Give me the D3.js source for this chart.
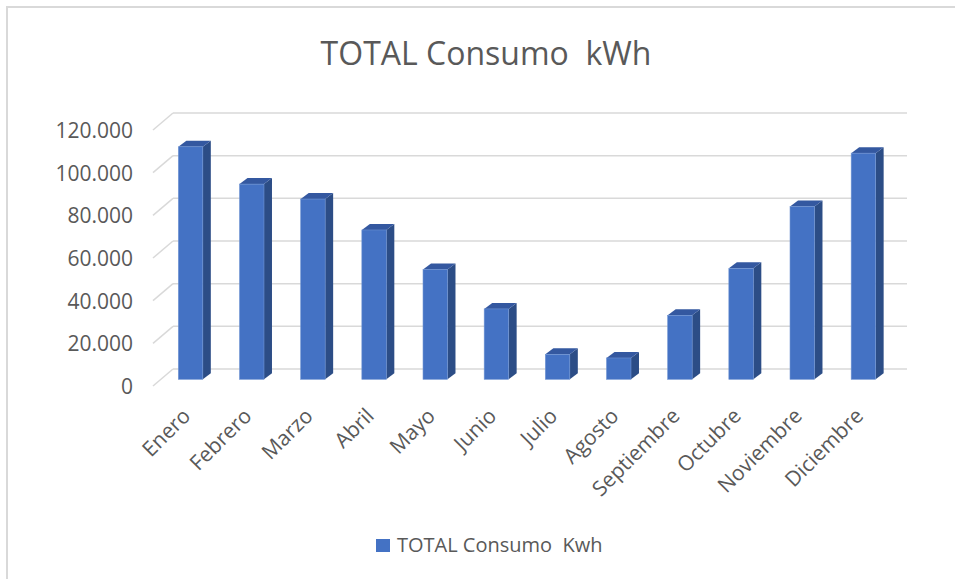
<!DOCTYPE html>
<html>
<head>
<meta charset="utf-8">
<script src="https://cdn.jsdelivr.net/npm/d3@7"></script>
<style>
  html, body { margin: 0; padding: 0; background: #ffffff; }
  svg { display: block; }
  text { font-family: "Open Sans", "Liberation Sans", sans-serif; fill: #595959; white-space: pre; }
</style>
</head>
<body>
<svg id="chart" width="955" height="579"></svg>
<script>
// ---- data ----
const categories = ["Enero", "Febrero", "Marzo", "Abril", "Mayo", "Junio", "Julio", "Agosto", "Septiembre", "Octubre", "Noviembre", "Diciembre"];
const consumo = [109000, 91500, 84500, 70000, 51500, 33000, 11700, 10000, 30000, 52000, 81000, 106000];
const yTicks = [0, 20000, 40000, 60000, 80000, 100000, 120000];
const titleText = "TOTAL Consumo  kWh";
const legendText = "TOTAL Consumo  Kwh";

// ---- layout ----
const svg = d3.select("#chart");
const W = 955, H = 579;
const back = { x0: 173, x1: 907, yBase: 369, yTop: 113 };
const depth = { dx: -20, dy: 17 };          // back wall -> front edge offset
const face = { dx: -12, dy: 10.3 };         // back wall -> bar front face offset
const barDepth = { dx: 8, dy: -6 };         // bar front -> bar back

const yBack = d3.scaleLinear().domain([0, 120000]).range([back.yBase, back.yTop]);
const x = d3.scaleBand().domain(categories)
  .range([back.x0 + face.dx - 1, back.x1 + face.dx - 1])
  .paddingInner(0.6).paddingOuter(0.3);

const loc = d3.formatLocale({ decimal: ",", thousands: ".", grouping: [3], currency: ["", ""] });
const fmt = loc.format(",.0f");

// chart area border
svg.append("rect").attr("x", 7).attr("y", 7).attr("width", W).attr("height", H)
  .attr("fill", "#ffffff").attr("stroke", "#d9d9d9").attr("stroke-width", 2);

// title
svg.append("text").attr("x", 486).attr("y", 65).attr("text-anchor", "middle")
  .attr("xml:space", "preserve")
  .style("font-size", "32px").text(titleText);

// gridlines (back wall + left wall)
const grid = svg.append("g");
grid.selectAll("line.h").data(yTicks).join("line").attr("class", "h")
  .attr("x1", back.x0).attr("x2", back.x1)
  .attr("y1", d => yBack(d)).attr("y2", d => yBack(d))
  .attr("stroke", "#d9d9d9").attr("stroke-width", 1.5);
grid.selectAll("line.d").data(yTicks).join("line").attr("class", "d")
  .attr("x1", back.x0 + depth.dx).attr("y1", d => yBack(d) + depth.dy)
  .attr("x2", back.x0).attr("y2", d => yBack(d))
  .attr("stroke", "#d9d9d9").attr("stroke-width", 1.5);

// y axis labels (front plane)
const yFront = yBack.copy().range([back.yBase + depth.dy, back.yTop + depth.dy]);
const yAxis = svg.append("g").attr("transform", "translate(133,0)")
  .call(d3.axisLeft(yFront).tickValues(yTicks).tickFormat(fmt).tickSize(0).tickPadding(0));
yAxis.select(".domain").remove();
yAxis.selectAll("text").style("font-size", "21px").attr("fill", "#595959")
  .attr("font-family", null).attr("dy", "0.35em");

// bars
const yFace = yBack.copy().range([back.yBase + face.dy, back.yTop + face.dy]);
const bars = svg.append("g").selectAll("g").data(categories.map((c, i) => ({ c, v: consumo[i] }))).join("g");
bars.append("path") // side
  .attr("d", d => {
    const xr = x(d.c) + x.bandwidth(), yt = yFace(d.v), yb = yFace(0);
    return `M${xr},${yt}L${xr + barDepth.dx},${yt + barDepth.dy}L${xr + barDepth.dx},${yb + barDepth.dy}L${xr},${yb}Z`;
  }).attr("fill", "#2c4d86");
bars.append("path") // top
  .attr("d", d => {
    const xl = x(d.c), xr = xl + x.bandwidth(), yt = yFace(d.v);
    return `M${xl},${yt}L${xl + barDepth.dx},${yt + barDepth.dy}L${xr + barDepth.dx},${yt + barDepth.dy}L${xr},${yt}Z`;
  }).attr("fill", "#3458a0");
bars.append("rect") // front
  .attr("x", d => x(d.c)).attr("width", x.bandwidth())
  .attr("y", d => yFace(d.v)).attr("height", d => yFace(0) - yFace(d.v))
  .attr("fill", "#4472c4").attr("stroke", "#6f93d3").attr("stroke-width", 0.6);

// category labels
svg.append("g").selectAll("text").data(categories).join("text")
  .attr("transform", d => `translate(${x(d) + x.bandwidth() / 2 - 4},${412}) rotate(-45)`)
  .attr("text-anchor", "end").attr("dy", "0.35em")
  .style("font-size", "21px").text(d => d);

// legend
svg.append("rect").attr("x", 376).attr("y", 539).attr("width", 14).attr("height", 13).attr("fill", "#4472c4");
svg.append("text").attr("x", 397).attr("y", 552).attr("xml:space", "preserve")
  .style("font-size", "20px").text(legendText);
</script>
</body>
</html>
